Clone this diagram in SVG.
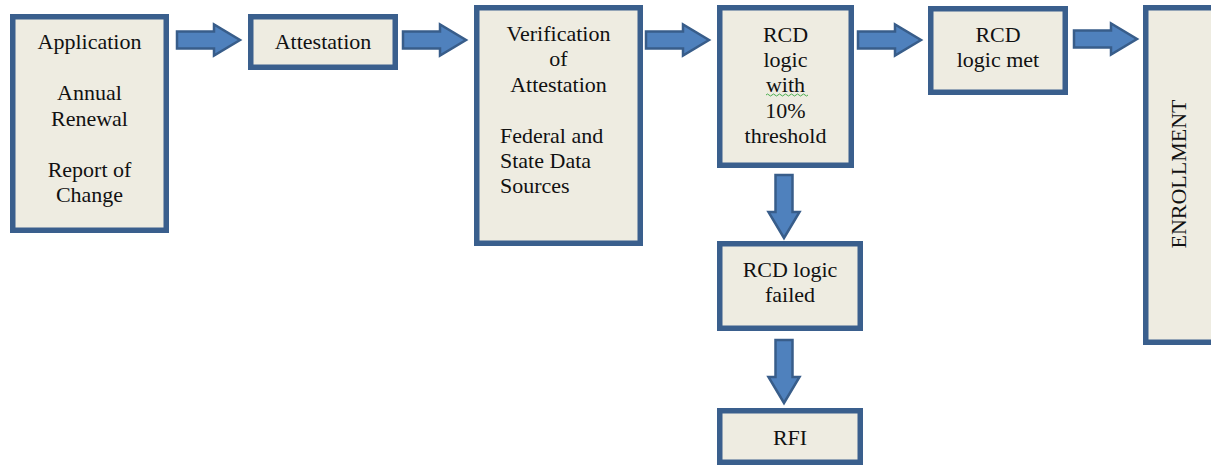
<svg xmlns="http://www.w3.org/2000/svg" width="1211" height="466" viewBox="0 0 1211 466">
  <style>
    .box { fill: #EEECE1; stroke: #3A5F8D; stroke-width: 5.5; }
    .arrow { fill: #4F81BD; stroke: #385D8A; stroke-width: 2.5; }
    text { font-family: 'Liberation Serif', serif; font-size: 22px; fill: #111; }
    .c { text-anchor: middle; }
  </style>
  <rect width="1211" height="466" fill="#ffffff"/>

  <g id="connectors">
    <path class="arrow" d="M177,31.5 H214 V24.5 L240,40 L214,55.5 V48.5 H177 Z"/>
    <path class="arrow" d="M403,31.5 H440 V24.5 L466,40 L440,55.5 V48.5 H403 Z"/>
    <path class="arrow" d="M646,31.5 H683 V24.5 L709,40 L683,55.5 V48.5 H646 Z"/>
    <path class="arrow" d="M858,31.5 H895 V24.5 L921,40 L895,55.5 V48.5 H858 Z"/>
    <path class="arrow" d="M1074,30.5 H1111 V23.5 L1137,39 L1111,54.5 V47.5 H1074 Z"/>
    <path class="arrow" d="M775.5,175 V212 H768.5 L784,238 L799.5,212 H792.5 V175 Z"/>
    <path class="arrow" d="M775.5,340 V377 H768.5 L784,403 L799.5,377 H792.5 V340 Z"/>
  </g>

  <g id="application">
    <rect class="box" x="12.75" y="16.75" width="153.5" height="213.5"/>
    <text class="c" x="89.5" y="49">Application</text>
    <text class="c" x="89.5" y="100">Annual</text>
    <text class="c" x="89.5" y="126">Renewal</text>
    <text class="c" x="89.5" y="177">Report of</text>
    <text class="c" x="89.5" y="202">Change</text>
  </g>

  <g id="attestation">
    <rect class="box" x="250.75" y="16.75" width="144.5" height="50.5"/>
    <text class="c" x="323" y="49">Attestation</text>
  </g>

  <g id="verification">
    <rect class="box" x="476.75" y="7.75" width="163.5" height="235.5"/>
    <text class="c" x="558.5" y="41">Verification</text>
    <text class="c" x="558.5" y="66">of</text>
    <text class="c" x="558.5" y="92">Attestation</text>
    <text x="500" y="143">Federal and</text>
    <text x="500" y="168">State Data</text>
    <text x="500" y="193">Sources</text>
  </g>

  <g id="rcd-logic">
    <rect class="box" x="719.75" y="7.75" width="131.5" height="157.5"/>
    <text class="c" x="785.5" y="42">RCD</text>
    <text class="c" x="785.5" y="67">logic</text>
    <text class="c" x="785.5" y="92">with</text>
    <!-- spell-check squiggle under "with" -->
    <path d="M766,95 q1.5,-2 3,0 t3,0 t3,0 t3,0 t3,0 t3,0 t3,0 t3,0 t3,0 t3,0 t3,0 t3,0 t3,0 t3,0" fill="none" stroke="#4CAF50" stroke-width="1"/>
    <text class="c" x="785.5" y="118">10%</text>
    <text class="c" x="785.5" y="143">threshold</text>
  </g>

  <g id="rcd-met">
    <rect class="box" x="930.75" y="8.75" width="134.5" height="83.5"/>
    <text class="c" x="998" y="42">RCD</text>
    <text class="c" x="998" y="67">logic met</text>
  </g>

  <g id="enrollment">
    <rect class="box" x="1145.75" y="7.75" width="90" height="334.5"/>
    <text class="c" transform="translate(1186,174) rotate(-90)">ENROLLMENT</text>
  </g>

  <g id="rcd-failed">
    <rect class="box" x="719.75" y="243.75" width="140.5" height="84.5"/>
    <text class="c" x="790" y="277">RCD logic</text>
    <text class="c" x="790" y="302">failed</text>
  </g>

  <g id="rfi">
    <rect class="box" x="719.75" y="410.75" width="140.5" height="51.5"/>
    <text class="c" x="790" y="445">RFI</text>
  </g>
</svg>
